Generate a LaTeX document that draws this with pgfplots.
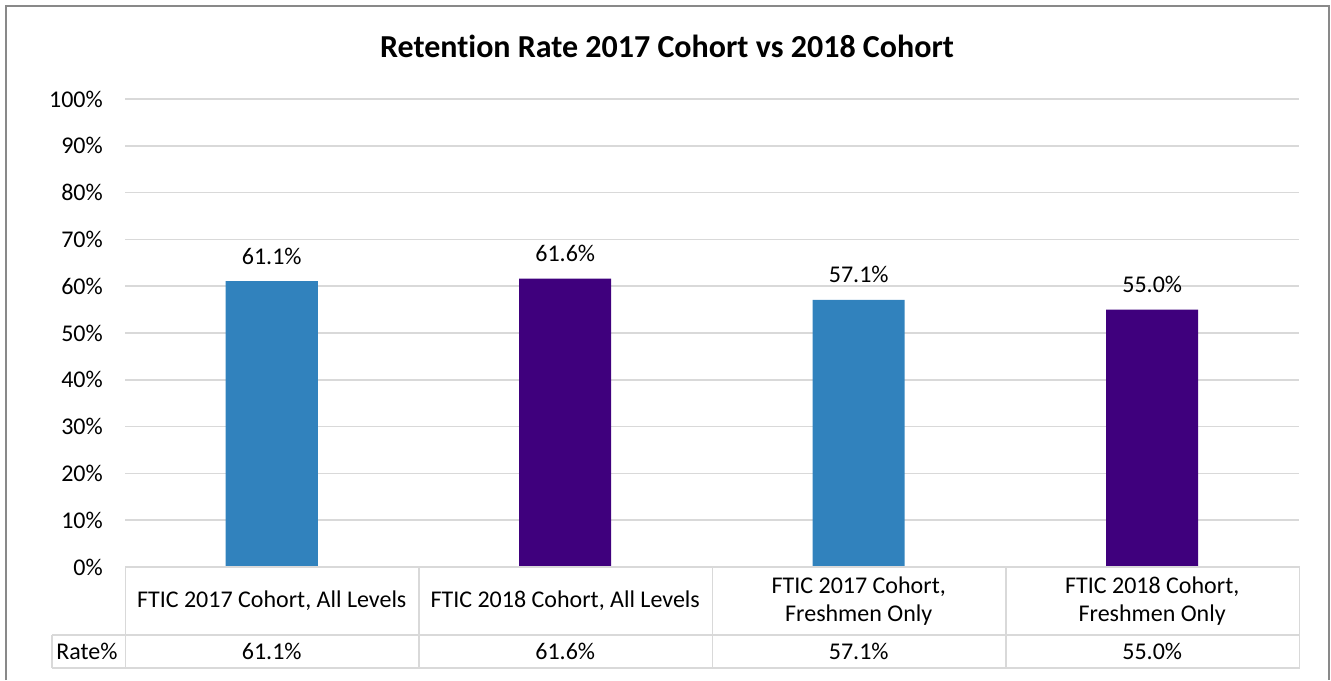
\documentclass[border=0pt]{standalone}
\usepackage{pgfplots}
\pgfplotsset{compat=1.18}
\usepackage{fontspec}
\setmainfont{Carlito}[Ligatures=NoCommon]
\definecolor{cblue}{HTML}{3182BD}
\definecolor{cpurple}{HTML}{3F007D}
\definecolor{gridc}{HTML}{D9D9D9}
\definecolor{framec}{HTML}{898989}
\begin{document}
\begin{tikzpicture}[x=1bp,y=1bp]
\path[use as bounding box] (0,0) rectangle (1331,680);
\draw[framec, line width=2.5bp] (6,0) -- (6,674) -- (1329,674) -- (1329,0);
\node[font=\fontsize{32bp}{38bp}\selectfont\bfseries] at (667,634) {Retention Rate 2017 Cohort vs 2018 Cohort};
\begin{axis}[at={(125bp,113bp)}, anchor=south west, scale only axis,
  width=1174bp, height=468bp,
  xmin=-0.5, xmax=3.5, ymin=0, ymax=100,
  axis line style={draw=none},
  tick style={draw=none}, major tick length=0pt,
  ytick={0,10,...,100},
  yticklabel={\pgfmathprintnumber{\tick}\%},
  ymajorgrids, grid style={gridc, line width=1.5bp},
  /pgf/number format/assume math mode=true,
  y tick label style={font=\fontsize{24bp}{29bp}\selectfont, anchor=east, inner sep=0pt, xshift=-22bp},
  xtick={0,1,2,3},
  xticklabels={{FTIC 2017 Cohort, All Levels},{FTIC 2018 Cohort, All Levels},{FTIC 2017 Cohort,\\Freshmen Only},{FTIC 2018 Cohort,\\Freshmen Only}},
  x tick label style={font=\fontsize{24bp}{28bp}\selectfont, anchor=center, align=center, inner sep=0pt, yshift=-34bp},
  extra x ticks={0,1,2,3},
  extra x tick labels={61.1\%,61.6\%,57.1\%,55.0\%},
  extra x tick style={grid=none, tick label style={yshift=-50.5bp}},
  clip=false,
  nodes near coords={\pgfmathprintnumber[fixed,fixed zerofill,precision=1]{\pgfplotspointmeta}\%},
  every node near coord/.append style={font=\fontsize{24bp}{29bp}\selectfont, anchor=center, inner sep=0pt, yshift=25bp},
]
\addplot[ybar, bar width=92bp, bar shift=0pt, fill=cblue, draw=none] coordinates {(0,61.1) (2,57.1)};
\addplot[ybar, bar width=92bp, bar shift=0pt, fill=cpurple, draw=none] coordinates {(1,61.6) (3,55.0)};
\end{axis}
\begin{scope}[gridc, line width=1.5bp]
\draw (125.5,113) -- (1299.5,113);
\draw (52,45) -- (1299.5,45);
\draw (52,12) -- (1299.5,12);
\draw (52,45) -- (52,12);
\foreach \xx in {125.5,419,712.5,1006,1299.5} \draw (\xx,113) -- (\xx,12);
\end{scope}
\node[font=\fontsize{24bp}{29bp}\selectfont] at (87,28.5) {Rate\%};
\end{tikzpicture}
\end{document}
